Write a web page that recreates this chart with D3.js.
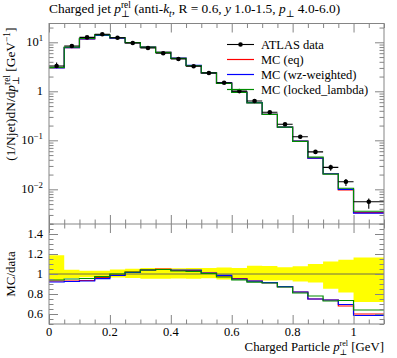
<!DOCTYPE html>
<html><head><meta charset="utf-8">
<script src="https://cdn.jsdelivr.net/npm/d3@7"></script>
<style>body{margin:0;background:#fff}svg{display:block}text{font-family:"Liberation Serif","DejaVu Serif",serif;fill:#000}</style>
</head><body>
<svg id="c" width="397" height="358"></svg>
<script>
// ---------- data ----------
const binEdges = [0,0.05,0.1,0.15,0.2,0.25,0.3,0.35,0.4,0.45,0.5,0.55,0.6,0.65,0.7,0.75,0.8,0.85,0.9,0.95,1.0,1.1];
const dataValues = [3.28,8.4,12.6,14.6,12.4,9.7,7.65,5.97,4.56,3.24,2.36,1.50,1.01,0.634,0.373,0.213,0.118,0.058,0.0281,0.0143,0.00558];
// relative data uncertainty (yellow band in ratio panel)
const bandUp   = [1.187,1.043,1.033,1.033,1.045,1.053,1.06,1.057,1.057,1.06,1.06,1.065,1.06,1.083,1.08,1.067,1.078,1.10,1.125,1.142,1.165];
const bandDown = [0.94,0.96,0.967,0.967,0.965,0.96,0.953,0.953,0.955,0.953,0.957,0.945,0.95,0.937,0.935,0.937,0.925,0.915,0.852,0.815,0.72];
// MC / data ratios
const ratioEq     = [0.93,0.93,0.935,0.965,0.99,1.02,1.04,1.05,1.035,1.035,1.01,0.98,0.955,0.93,0.913,0.873,0.82,0.75,0.74,0.68,0.60];
const ratioWz     = [0.92,0.925,0.93,0.953,0.985,1.015,1.04,1.045,1.04,1.04,1.01,0.987,0.95,0.928,0.913,0.873,0.82,0.75,0.74,0.695,0.585];
const ratioLocked = [0.94,0.95,0.955,0.973,1.0,1.02,1.04,1.045,1.03,1.027,1.005,0.97,0.942,0.918,0.91,0.87,0.81,0.78,0.73,0.735,0.64];
const seriesNames  = ["MC (eq)","MC (wz-weighted)","MC (locked_lambda)"];
const seriesColors = ["#ff0000","#0000ff","#008c00"];
const xTickValues = [0,0.2,0.4,0.6,0.8,1.0];
const xTickLabels = ["0","0.2","0.4","0.6","0.8","1"];
const logTickValues = [0.01,0.1,1,10];
const logTickLabels = [["10","\u22122"],["10","\u22121"],["1",""],["10","1"]];
const ratioTickValues = [0.6,0.8,1.0,1.2,1.4];
const ratioTickLabels = ["0.6","0.8","1","1.2","1.4"];

// ---------- layout ----------
const L=49, R=384, T=23.5, MB=224, RB=324;
const FS=12.5, TFS=13.4;
const frameColor="#858585";
const svg=d3.select("#c");
const x=d3.scaleLinear().domain([0,1.1]).range([L,R]);
const y=d3.scaleLog().domain([0.00196,24.2]).range([MB,T]);
const yr=d3.scaleLinear().domain([0.5,1.5]).range([RB,MB]);

const defs=svg.append("defs");
defs.append("clipPath").attr("id","cm").append("rect").attr("x",L).attr("y",T).attr("width",R-L).attr("height",MB-T);
defs.append("clipPath").attr("id","cr").append("rect").attr("x",L).attr("y",MB).attr("width",R-L).attr("height",RB-MB);

function rich(sel,parts,size,supF=0.4,subF=0.28,smallF=0.7){
  let cur=0, prev=null;
  parts.forEach(p=>{
    const small=p.sup||p.sub;
    const fs=small?size*smallF:size;
    const target=p.sup?-size*supF:(p.sub?size*subF:0);
    const ts=sel.append("tspan").text(p.t).attr("font-size",fs).attr("dy",target-cur);
    if(p.it) ts.attr("font-style","italic");
    if(p.back&&prev) ts.attr("dx",-prev.node().getComputedTextLength());
    cur=target; prev=ts;
  });
}

const n=dataValues.length;
const stepLine=(sc,vals)=>d3.line().curve(d3.curveStepAfter).x(d=>x(d[0])).y(d=>sc(d[1]))(
  binEdges.map((e,i)=>[e, vals[Math.min(i,n-1)]]));

// ---------- ratio band ----------
const gr=svg.append("g").attr("clip-path","url(#cr)");
gr.append("path").attr("fill","#ffff00").attr("d",
  d3.area().curve(d3.curveStepAfter).x(d=>x(d[0])).y0(d=>yr(d[1])).y1(d=>yr(d[2]))(
    binEdges.map((e,i)=>[e,bandDown[Math.min(i,n-1)],bandUp[Math.min(i,n-1)]])));
gr.append("line").attr("x1",L).attr("x2",R).attr("y1",yr(1)).attr("y2",yr(1)).attr("stroke","#6e6e4a").attr("stroke-width",1);

const ratios=[ratioEq,ratioWz,ratioLocked];
ratios.forEach((r,k)=>{
  gr.append("path").attr("fill","none").attr("stroke",seriesColors[k]).attr("stroke-width",1.2).attr("d",stepLine(yr,r));
});

// ---------- main panel ----------
const gm=svg.append("g").attr("clip-path","url(#cm)");
ratios.forEach((r,k)=>{
  const mc=dataValues.map((d,i)=>d*r[i]);
  gm.append("path").attr("fill","none").attr("stroke",seriesColors[k]).attr("stroke-width",1.2).attr("d",stepLine(y,mc));
});
// data
dataValues.forEach((d,i)=>{
  const xc=x((binEdges[i]+binEdges[i+1])/2);
  gm.append("line").attr("x1",x(binEdges[i])).attr("x2",x(binEdges[i+1])).attr("y1",y(d)).attr("y2",y(d)).attr("stroke","#000").attr("stroke-width",1.1);
  gm.append("line").attr("x1",xc).attr("x2",xc).attr("y1",y(d*bandUp[i])).attr("y2",y(d*bandDown[i])).attr("stroke","#000").attr("stroke-width",1.1);
  gm.append("circle").attr("cx",xc).attr("cy",y(d)).attr("r",2.3).attr("fill","#000");
});

// ---------- ticks ----------
function ticks(axisFn,scale,vals,size,tr){
  svg.append("g").attr("transform",tr)
    .call(axisFn(scale).tickValues(vals).tickSize(-size).tickSizeOuter(0).tickFormat(""))
    .call(g=>{g.select(".domain").remove();g.selectAll("line").attr("stroke",frameColor);});
}
const xMinor=d3.range(0,1.1001,0.05).filter(v=>!xTickValues.some(t=>Math.abs(t-v)<1e-6));
[[d3.axisTop,T],[d3.axisBottom,MB],[d3.axisTop,MB],[d3.axisBottom,RB]].forEach(([f,yy])=>{
  ticks(f,x,xTickValues,9,`translate(0,${yy})`);
  ticks(f,x,xMinor,4.5,`translate(0,${yy})`);
});
const logMinor=[];
[0.001,0.01,0.1,1,10].forEach(dd=>{for(let k=2;k<=9;k++){const v=k*dd;if(v>=0.00196&&v<=24.2)logMinor.push(v);}});
[[d3.axisLeft,L],[d3.axisRight,R]].forEach(([f,xx])=>{
  ticks(f,y,logTickValues,9,`translate(${xx},0)`);
  ticks(f,y,logMinor,4.5,`translate(${xx},0)`);
  ticks(f,yr,ratioTickValues,9,`translate(${xx},0)`);
  ticks(f,yr,d3.range(0.5,1.5001,0.05).filter(v=>!ratioTickValues.some(t=>Math.abs(t-v)<1e-6)),4.5,`translate(${xx},0)`);
});

// frame
svg.append("rect").attr("x",L).attr("y",T).attr("width",R-L).attr("height",RB-T).attr("fill","none").attr("stroke",frameColor);
svg.append("line").attr("x1",L).attr("x2",R).attr("y1",MB).attr("y2",MB).attr("stroke",frameColor);

// ---------- tick labels ----------
logTickValues.forEach((v,i)=>{
  const t=svg.append("text").attr("x",43).attr("y",y(v)+4).attr("text-anchor","end").attr("font-size",FS);
  const parts=[{t:logTickLabels[i][0]}];
  if(logTickLabels[i][1]) parts.push({t:logTickLabels[i][1],sup:true});
  rich(t,parts,FS);
});
ratioTickValues.forEach((v,i)=>{
  svg.append("text").attr("x",43).attr("y",yr(v)+4).attr("text-anchor","end").attr("font-size",FS).text(ratioTickLabels[i]);
});
xTickValues.forEach((v,i)=>{
  svg.append("text").attr("x",x(v)).attr("y",336).attr("text-anchor","middle").attr("font-size",FS).text(xTickLabels[i]);
});

// ---------- titles ----------
const pPerpRel=[{t:"p",it:true},{t:"\u22a5",sub:true},{t:"rel",sup:true,back:true}];
const title=svg.append("text").attr("x",L).attr("y",13).attr("font-size",TFS);
rich(title,[{t:"Charged jet "},...pPerpRel,{t:" (anti-"},{t:"k",it:true},{t:"t",it:true,sub:true},
  {t:", R = 0.6, "},{t:"y",it:true},{t:" 1.0-1.5, "},{t:"p",it:true},{t:"\u22a5",sub:true},{t:" 4.0-6.0)"}],TFS);

const xl=svg.append("text").attr("x",R).attr("y",351).attr("text-anchor","end").attr("font-size",12.8);
rich(xl,[{t:"Charged Particle "},...pPerpRel,{t:" [GeV]"}],12.8,0.4,0.32,0.63);

const yl=svg.append("text").attr("transform",`translate(15,${T+4}) rotate(-90)`).attr("text-anchor","end").attr("font-size",TFS);
rich(yl,[{t:"(1/Njet)dN/d"},...pPerpRel,{t:" [GeV"},{t:"\u22121",sup:true},{t:"]",}],TFS);

svg.append("text").attr("transform",`translate(15,${yr(1)}) rotate(-90)`).attr("text-anchor","middle").attr("font-size",13).text("MC/data");

// ---------- legend ----------
const legY=[44.5,59.5,74.5,89.5];
const lg=svg.append("g");
lg.append("line").attr("x1",227).attr("x2",254).attr("y1",legY[0]).attr("y2",legY[0]).attr("stroke","#000").attr("stroke-width",1.1);
lg.append("circle").attr("cx",240.5).attr("cy",legY[0]).attr("r",2.3).attr("fill","#000");
lg.append("text").attr("x",261).attr("y",legY[0]+4).attr("font-size",FS).text("ATLAS data");
seriesNames.forEach((s,k)=>{
  lg.append("line").attr("x1",227).attr("x2",254).attr("y1",legY[k+1]).attr("y2",legY[k+1]).attr("stroke",seriesColors[k]).attr("stroke-width",1.2);
  lg.append("text").attr("x",261).attr("y",legY[k+1]+4).attr("font-size",FS).text(s);
});
</script>
</body></html>
